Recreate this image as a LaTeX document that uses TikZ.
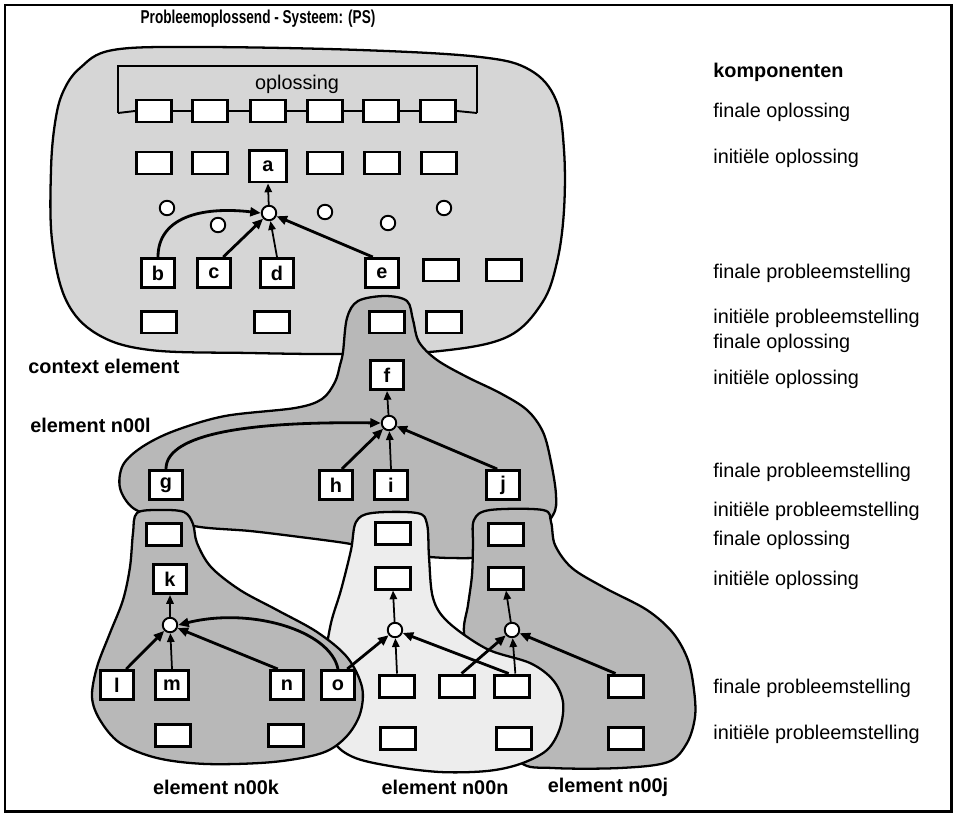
\documentclass[tikz,border=0pt]{standalone}
\usepackage{fontspec}
\usepackage{graphicx}
\setmainfont{Liberation Sans}
\usetikzlibrary{arrows.meta}

% text styles: 20px ~ 11.3pt at 0.02cm per unit
\newcommand{\komtext}{\fontsize{11.3}{13}\selectfont}
\newcommand{\komlabel}{\fontsize{11.3}{13}\selectfont\bfseries}
\newcommand{\komtitle}{\fontsize{10.6}{12}\selectfont\bfseries}

\definecolor{ctxgray}{gray}{0.84}
\definecolor{midgray}{gray}{0.72}
\definecolor{palegray}{gray}{0.93}

\begin{document}
\begin{tikzpicture}[x=0.02cm,y=-0.02cm,
  blob/.style={draw=black, line width=1.3pt, line join=round},
  slot/.style={draw=black, fill=white, line width=1.7pt, minimum width=0.70cm,
    minimum height=0.44cm, inner sep=0pt},
  lslot/.style={slot, minimum width=0.66cm, minimum height=0.58cm, font=\komlabel},
  knot/.style={circle, draw=black, fill=white, line width=1.1pt, minimum size=0.29cm, inner sep=0pt},
  flow/.style={line width=1.6pt, -{Triangle[length=6pt,width=5pt]}},
  thinflow/.style={line width=1pt, -{Triangle[length=5pt,width=4.2pt]}},
  note/.style={anchor=west, inner sep=0pt, font=\komtext},
  bnote/.style={anchor=west, inner sep=0pt, font=\komlabel},
]
\useasboundingbox (0,0) rectangle (956,815);

% outer frame
\draw[line width=1.7pt] (5,5) rectangle (951,811);

% ---- regions ----
% context element
\path[blob, fill=ctxgray] plot[smooth cycle, tension=0.6] coordinates {
  (55,123) (63,92) (80,68) (113,50) (200,47) (360,50) (480,57) (530,70)
  (556,100) (564,150) (564,210) (557,262) (542,303) (507,337) (440,351)
  (350,354) (250,353) (150,350) (97,334) (66,300) (52,240) (51,170)};
% element n00l
\path[blob, fill=midgray] plot[smooth cycle, tension=0.55] coordinates {
  (343,352) (347,318) (358,301) (385,296) (407,301) (413,320) (419,342)
  (437,360) (467,377) (500,393) (527,410) (543,432) (551,462) (556,495)
  (553,515) (530,540) (490,556) (450,558) (410,555) (370,548) (345,543)
  (300,537) (250,531) (200,527) (160,518) (133,508) (120,488) (123,465)
  (142,447) (174,431) (225,416) (295,408) (322,399) (335,382) (340,365)};
% element n00j
\path[blob, fill=midgray] plot[smooth cycle, tension=0.55] coordinates {
  (474,520) (490,510) (543,510) (551,522) (555,545) (572,568) (605,588)
  (647,610) (673,633) (688,660) (694,690) (695,717) (687,743) (668,762)
  (620,768) (553,768) (520,762) (495,720) (475,670) (464,633) (468,605)
  (472,575) (473,545)};
% element n00n
\path[blob, fill=palegray] plot[smooth cycle, tension=0.55] coordinates {
  (356,522) (372,513) (417,513) (427,524) (429,557) (433,598) (448,622)
  (487,649) (530,663) (553,680) (563,702) (560,728) (547,750) (520,764)
  (487,771) (440,772) (390,766) (353,757) (333,740) (322,700) (325,660)
  (331,623) (341,590) (351,550)};
% element n00k
\path[blob, fill=midgray] plot[smooth cycle, tension=0.55] coordinates {
  (137,513) (160,510) (184,512) (193,524) (197,543) (211,567) (240,590)
  (277,610) (317,632) (347,657) (362,687) (360,714) (346,737) (322,753)
  (273,762) (207,764) (157,758) (120,743) (100,720) (92,697) (97,667)
  (110,633) (123,600) (130,567) (133,533)};

% ---- context element ----
\coordinate (brl) at (118,113);
\coordinate (brr) at (477,113);
\draw[line width=1.1pt] (brl) -- (118,66) -- (477,66) -- (brr);
\node[font=\komtext] (opl) at (297,84) {oplossing};

\foreach \n/\x in {1/154,2/210,3/268,4/325,5/381,6/438}
  \node[slot] (fo\n) at (\x,111) {};
\draw[line width=1.1pt] (brl) -- (fo1.west) (fo1.east) -- (fo2.west)
  (fo2.east) -- (fo3.west) (fo3.east) -- (fo4.west) (fo4.east) -- (fo5.west)
  (fo5.east) -- (fo6.west) (fo6.east) -- (brr);

\node[slot] (io1) at (154,163) {};
\node[slot] (io2) at (210,163) {};
\node[lslot, minimum width=0.74cm, minimum height=0.64cm] (na) at (268,166) {a};
\node[slot] (io4) at (325,163) {};
\node[slot] (io5) at (382,163) {};
\node[slot] (io6) at (439,163) {};

\node[knot] (k1) at (167,208) {};
\node[knot] (k2) at (218,225) {};
\node[knot] (cA) at (269,213) {};
\node[knot] (k4) at (325,212) {};
\node[knot] (k5) at (388,223) {};
\node[knot] (k6) at (444,208) {};

\node[lslot] (nb) at (158,273) {b};
\node[lslot] (nc) at (214,273) {c};
\node[lslot] (nd) at (277,273) {d};
\node[lslot] (ne) at (382,273) {e};
\node[slot] (fp5) at (441,270) {};
\node[slot] (fp6) at (504,270) {};

\node[slot] (ip1) at (159,322) {};
\node[slot] (ip2) at (272,322) {};
\node[slot] (ip3) at (387,322) {};
\node[slot] (ip4) at (444,322) {};

\draw[flow] (nb.north) .. controls (158,218) and (200,206) .. (cA.west);
\draw[flow] (nc.60) -- (cA);
\draw[thinflow] (nd.north) -- (cA);
\draw[flow] (ne.120) -- (cA);
\draw[thinflow] (cA) -- (na.south);

% ---- element n00l ----
\node[lslot] (nf) at (387,375) {f};
\node[knot] (cL) at (389,423) {};
\node[lslot] (ng) at (166,485) {g};
\node[lslot] (nh) at (336,485) {h};
\node[lslot] (ni) at (391,485) {i};
\node[lslot] (nj) at (503,485) {j};

\draw[flow] (ng.north) .. controls (166,438) and (230,421) .. (cL.west);
\draw[flow] (nh.70) -- (cL);
\draw[thinflow] (ni.north) -- (cL);
\draw[flow] (nj.110) -- (cL);
\draw[thinflow] (cL) -- (nf.south);

% ---- element n00k ----
\node[slot] (kp) at (164,534) {};
\node[lslot] (nk) at (170,579) {k};
\node[knot] (cK) at (170,625) {};
\node[lslot] (nl) at (117,685) {l};
\node[lslot] (nm) at (172,685) {m};
\node[lslot] (nn) at (287,685) {n};
\node[lslot] (no) at (338,685) {o};
\node[slot] (kq1) at (173,735) {};
\node[slot] (kq2) at (286,735) {};

\draw[flow] (nl.60) -- (cK);
\draw[thinflow] (nm.north) -- (cK);
\draw[flow] (nn.120) -- (cK);
\draw[flow] (no.north) .. controls (330,630) and (250,607) .. (cK.east);
\draw[thinflow] (cK) -- (nk.south);

% ---- element n00n ----
\node[slot] (np1) at (393,533) {};
\node[slot] (np2) at (393,578) {};
\node[knot] (cN) at (395,630) {};
\node[slot] (nq1) at (397,686) {};
\node[slot] (nq2) at (457,686) {};
\node[slot] (nq3) at (512,686) {};
\node[slot] (nr1) at (398,738) {};
\node[slot] (nr2) at (514,738) {};

\draw[flow] (no.60) -- (cN);
\draw[thinflow] (nq1.north) -- (cN);
\draw[flow] (nq3.105) -- (cN);
\draw[thinflow] (cN) -- (np2.south);

% ---- element n00j ----
\node[slot] (jp1) at (506,534) {};
\node[slot] (jp2) at (506,578) {};
\node[knot] (cJ) at (512,630) {};
\node[slot] (jq) at (626,686) {};
\node[slot] (jr) at (626,738) {};

\draw[flow] (nq2.70) -- (cJ);
\draw[thinflow] (nq3.75) -- (cJ);
\draw[flow] (jq.130) -- (cJ);
\draw[thinflow] (cJ) -- (jp2.south);

% ---- labels ----
\node[font=\komtitle] (title) at (258,19) {\scalebox{0.73}[1]{Probleemoplossend - Systeem: (PS)}};
\node[bnote] (ctx) at (28,366) {context element};
\node[bnote] (lbl) at (30,425) {element n00l};
\node[font=\komlabel] (lbk) at (216,787) {element n00k};
\node[font=\komlabel] (lbn) at (445,787) {element n00n};
\node[font=\komlabel] (lbj) at (608,787) {element n00j};

\node[bnote] (komp) at (713,72) {komponenten};
\node[note] (t1) at (713,112) {finale oplossing};
\node[note] (t2) at (713,158) {initiële oplossing};
\node[note] (t3) at (713,273) {finale probleemstelling};
\node[note] (t4) at (713,318) {initiële probleemstelling};
\node[note] (t5) at (713,343) {finale oplossing};
\node[note] (t6) at (713,379) {initiële oplossing};
\node[note] (t7) at (713,472) {finale probleemstelling};
\node[note] (t8) at (713,511) {initiële probleemstelling};
\node[note] (t9) at (713,540) {finale oplossing};
\node[note] (t10) at (713,580) {initiële oplossing};
\node[note] (t11) at (713,688) {finale probleemstelling};
\node[note] (t12) at (713,734) {initiële probleemstelling};
\end{tikzpicture}
\end{document}
